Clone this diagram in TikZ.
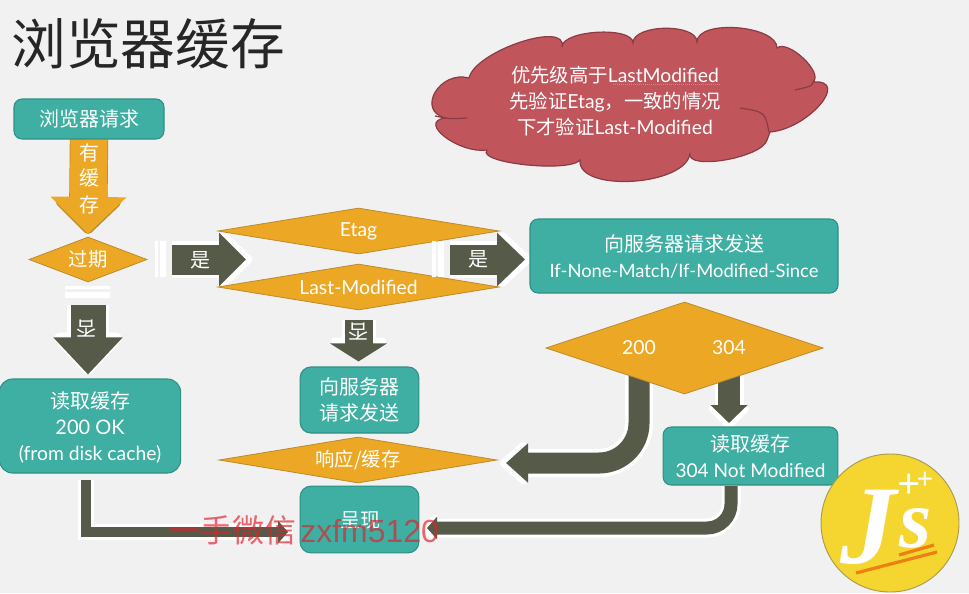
\documentclass[tikz,border=0pt]{standalone}
\usepackage{fontspec}
\setmainfont{Lato}
\newfontfamily\cjk{Noto Sans CJK SC}
\newfontfamily\wmfont{Liberation Sans}
\newfontfamily\logofont{Liberation Serif}
\usetikzlibrary{shapes.geometric,arrows.meta,backgrounds}
\definecolor{bgc}{HTML}{F1F1F1}
\definecolor{tealc}{HTML}{3FAFA3}
\definecolor{tealb}{HTML}{2F8F87}
\definecolor{orc}{HTML}{ECA825}
\definecolor{orb}{HTML}{BC8A2A}
\definecolor{darkc}{HTML}{565A48}
\definecolor{cloudc}{HTML}{C0565C}
\definecolor{cloudb}{HTML}{8C3A44}
\definecolor{logoc}{HTML}{F5D631}
\definecolor{logob}{HTML}{A89A50}
\definecolor{undc}{HTML}{EE7F12}
\definecolor{wmc}{HTML}{E0222C}
\newcommand\Z[1]{{\cjk #1}}
\newcommand\fs[2]{\fontsize{#1}{#2}\selectfont}
% #1 fill, #2 halo colour, #3 halo px, #4 shaft px, #5 head length px, #6 head width px, #7 options, #8 path
\newcommand\blk[8]{%
  \pgfmathsetmacro\blkLw{(#4+2*#3)*0.75}%
  \pgfmathsetmacro\blkLa{(#5+2.2*#3)*0.75}%
  \pgfmathsetmacro\blkWa{(#6+3.4*#3)*0.75}%
  \pgfmathsetmacro\blkHa{1.8*#3*0.75}%
  \draw[#2,line width=\blkLw pt,-{Triangle[length=\blkLa pt,width=\blkWa pt,round]},shorten >=-\blkHa pt,#7] #8;
  \pgfmathsetmacro\blkLw{#4*0.75}%
  \pgfmathsetmacro\blkLa{#5*0.75}%
  \pgfmathsetmacro\blkWa{#6*0.75}%
  \draw[#1,line width=\blkLw pt,-{Triangle[length=\blkLa pt,width=\blkWa pt]},#7] #8;
}
\tikzset{
  tbox/.style={draw=tealb,line width=.8pt,fill=tealc,rounded corners=6pt,text=white,align=center,inner sep=0pt,font=\fs{15}{19.5}},
  odia/.style={diamond,draw=orb,line width=.6pt,fill=orc,text=white,inner sep=0pt,shape aspect=6,font=\fs{14.5}{18}},
  plain/.style={text=white,inner sep=0pt,font=\fs{15}{20}},
  ghost/.style={fill=white,draw=none}
}
\begin{document}
\begin{tikzpicture}[x=.75pt,y=-.75pt]
\useasboundingbox (0,0) rectangle (969,593);

% title
\node[inner sep=0pt,text=black!85,font=\fs{41}{48}] (title) at (148,44) {\Z{浏览器缓存}};

% cloud
\path[draw=cloudb,line width=.9pt,fill=cloudc] (469,78)
  .. controls (475,51) and (568,20) .. (562,47)
  .. controls (562,30) and (633,26) .. (633,43)
  .. controls (633,24) and (697,23) .. (697,42)
  .. controls (697,19) and (777,25) .. (777,48)
  .. controls (788,39) and (824,73) .. (813,82)
  .. controls (851,79) and (808,129) .. (770,132)
  -- (767,140)
  .. controls (762,158) and (685,171) .. (690,153)
  .. controls (687,186) and (577,193) .. (580,160)
  .. controls (569,173) and (476,163) .. (487,150)
  .. controls (459,154) and (417,122) .. (445,118)
  .. controls (416,110) and (440,70) .. (469,78) -- cycle;
\draw[cloudb,line width=.9pt] (813,82) .. controls (812,86) .. (795,90);
\draw[cloudb,line width=.9pt] (740,108) .. controls (765,112) .. (769,132);
\draw[cloudb,line width=.9pt] (435,116) .. controls (450,119) .. (467,118);
\node[plain,align=center,font=\fs{14.5}{19.5}] (cloudtext) at (615,101) {\Z{优先级高于}LastModified\\\Z{先验证}Etag\Z{，一致的情况}\\\Z{下才验证}Last-Modified};
\draw[red!55!white,line width=.5pt,densely dotted] (613,84) -- (721,84);

% nodes
\node[tbox,minimum width=112.5pt,minimum height=30pt] (req) at (89,119) {\Z{浏览器请求}};
\node[odia,shape aspect=2.6,minimum width=88.5pt,minimum height=33.75pt] (exp) at (88,259.5) {\Z{过期}};
\node[odia,minimum width=211pt,minimum height=34.5pt] (etag) at (358.5,231) {Etag};
\node[odia,minimum width=211pt,minimum height=34.5pt] (lastmod) at (358.5,287) {Last-Modified};
\node[tbox,minimum width=231pt,minimum height=55.5pt] (server) at (684,256) {\Z{向服务器请求发送}\\{\fs{13.8}{19.5}If-None-Match/If-Modified-Since}};
\node[odia,minimum width=208pt,minimum height=69pt] (dia) at (684.5,348) {};
\node[plain,font=\fs{14.5}{18}] (t200) at (639,348) {200};
\node[plain,font=\fs{14.5}{18}] (t304) at (729,348) {304};
\node[tbox,rounded corners=10pt,minimum width=136pt,minimum height=70.5pt,text depth=0pt] (read200) at (90,426) {\Z{读取缓存}\\200 OK\\{\fs{14.5}{19.5}(from disk cache)}};
\node[tbox,rounded corners=8pt,minimum width=89pt,minimum height=49.5pt] (reqs) at (359.5,400) {\Z{向服务器}\\\Z{请求发送}};
\node[odia,minimum width=208.5pt,minimum height=34.5pt] (resp) at (358,460) {\Z{响应/缓存}};
\node[tbox,rounded corners=8pt,minimum width=89pt,minimum height=50pt] (show) at (359.5,519.5) {};
\node[plain] (showt) at (360,520) {\Z{呈现}};
\node[tbox,minimum width=131pt,minimum height=43.5pt] (read304) at (750.5,456) {\Z{读取缓存}\\{\fs{14.3}{19.5}304 Not Modified}};

% free connector ends
\coordinate (yes1e) at (246,259.5);
\coordinate (yes2s) at (450,259.5);
\coordinate (yes2e) at (525,259.5);
\coordinate (a200s) at (639,362);
\coordinate (a200e) at (506,463);
\coordinate (a304s) at (729,362);
\coordinate (a304e) at (729,423);
\coordinate (l200s) at (86,480);
\coordinate (l200e) at (288,532);
\coordinate (l304s) at (731,486);
\coordinate (l304e) at (427,528);

\begin{scope}[on background layer]
  \fill[bgc] (0,0) rectangle (969,593);
  \blk{orc}{orb}{.7}{37}{37}{74}{shorten >=2pt}{(req.south) -- (exp.north)}
  \blk{darkc}{white}{3.5}{30}{27}{52}{shorten <=18.75pt}{(exp.east) -- (yes1e)}
  \blk{darkc}{white}{3.5}{35}{37}{67}{shorten <=17.25pt,shorten >=3pt}{(exp.south) -- (exp.south |- read200.north)}
  \blk{darkc}{white}{3.5}{30}{28}{52}{}{(yes2s) -- (yes2e)}
  \blk{darkc}{white}{3}{28}{18}{56}{shorten <=7.5pt,shorten >=3.75pt}{(lastmod.south) -- (lastmod.south |- reqs.north)}
  \blk{darkc}{white}{3.5}{21}{22}{38}{rounded corners=30pt}{(a200s) |- (a200e)}
  \blk{darkc}{white}{3.5}{22}{18}{36}{}{(a304s) -- (a304e)}
  \blk{darkc}{white}{3}{10}{10}{22}{}{(l200s) |- (l200e)}
  \blk{darkc}{white}{3}{13}{10}{22}{rounded corners=18pt}{(l304s) |- (l304e)}
\end{scope}

% connector labels
\node[plain] (lab1) at (89,153) {\Z{有}};
\node[plain] (lab2) at (89,178) {\Z{缓}};
\node[plain] (lab3) at (89,205) {\Z{存}};
\node[plain] (labyes1) at (200,260) {\Z{是}};
\node[plain] (labyes2) at (478,259) {\Z{是}};
\node[plain,rotate=180] (labno1) at (86,329) {\Z{否}};
\node[plain,rotate=180] (labno2) at (358,332) {\Z{否}};

% wipe remnants
\fill[ghost] (155,241) rectangle (158,277) (160,241) rectangle (166,277);
\fill[ghost] (65,286) rectangle (110,289) (65,292) rectangle (110,298);
\fill[ghost] (432,241) rectangle (436,277) (438,241) rectangle (444,277);

% logo
\node[circle,draw=logob,line width=.7pt,fill=logoc,minimum size=103.5pt,inner sep=0pt] (logo) at (890,523) {};
\node[text=white,inner sep=0pt,font=\logofont\bfseries\itshape\fs{84}{84}] (logoj) at (868,527) {J};
\node[text=white,inner sep=0pt,font=\logofont\bfseries\itshape\fs{62}{62}] (logos) at (916,528) {s};
\node[text=white,inner sep=0pt,font=\fs{30}{30}] (logop1) at (909,486) {+};
\node[text=white,inner sep=0pt,font=\fs{21}{21}] (logop2) at (925,480) {+};
\draw[undc,line width=2.4pt] (856,573) -- (937,552);
\draw[undc,line width=2.4pt] (899,555) -- (934,545);

% watermark
\node[text=wmc,opacity=.68,inner sep=0pt,anchor=west,font=\fs{24}{28}] (wm) at (168,530) {\Z{一手微信}\hspace{3pt}{\wmfont zxfm5120}};
\end{tikzpicture}
\end{document}
